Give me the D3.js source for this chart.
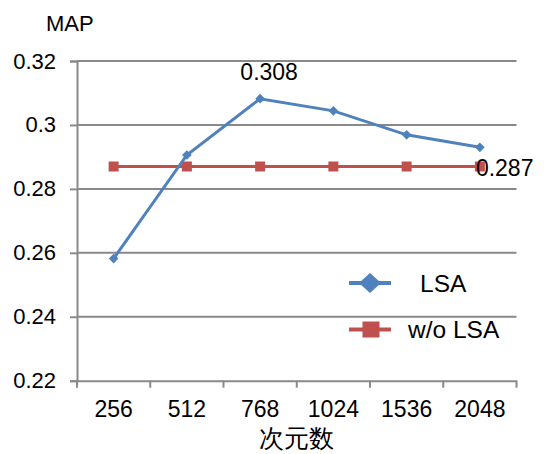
<!DOCTYPE html>
<html><head><meta charset="utf-8">
<script src="https://cdn.jsdelivr.net/npm/d3@7"></script>
<style>body{margin:0;background:#fff}text{font-family:"Liberation Sans",Arial,sans-serif;fill:#000}</style>
</head><body><svg id="c" width="546" height="454"></svg>
<script>
const categories = ["256","512","768","1024","1536","2048"];
const lsaValues = [0.2582, 0.2906, 0.3082, 0.3044, 0.2969, 0.293];
const woLsaValues = [0.287, 0.287, 0.287, 0.287, 0.287, 0.287];
const yTicks = [0.22, 0.24, 0.26, 0.28, 0.30, 0.32];
const yTickLabels = ["0.22","0.24","0.26","0.28","0.3","0.32"];
const seriesNames = ["LSA", "w/o LSA"];
const colors = ["#4F81BD", "#C0504D"];
const grey = "#898989";

const svg = d3.select("#c");
const L = 77, R = 516.5, T = 61, B = 380.7;
const x = d3.scaleBand().domain(categories).range([L, R]);
const y = d3.scaleLinear().domain([0.22, 0.32]).range([B, T]);
const cx = d => x(d) + x.bandwidth() / 2;
const FONT = "Liberation Sans, Arial, sans-serif";

// gridlines
svg.append("g").selectAll("line").data(yTicks.slice(1)).join("line")
  .attr("x1", L).attr("x2", R).attr("y1", d => y(d)).attr("y2", d => y(d))
  .attr("stroke", grey).attr("stroke-width", 2);

// y axis
const ya = svg.append("g").attr("transform", `translate(${L},0)`)
  .call(d3.axisLeft(y).tickValues(yTicks).tickFormat((d,i) => yTickLabels[i]).tickSize(7).tickPadding(14));
ya.select(".domain").attr("stroke", grey).attr("stroke-width", 2);
ya.selectAll(".tick line").attr("stroke", grey).attr("stroke-width", 2);
ya.selectAll("text").attr("font-size", 22).attr("font-family", FONT).attr("fill", "#000");

// x axis
const xa = svg.append("g").attr("transform", `translate(0,${B})`)
  .call(d3.axisBottom(x).tickSize(0).tickPadding(20));
xa.select(".domain").attr("stroke", grey).attr("stroke-width", 2);
xa.selectAll("text").attr("font-size", 23).attr("font-family", FONT).attr("fill", "#000");
// boundary tick marks
const bounds = categories.map(c => x(c)).concat([x(categories[categories.length-1]) + x.bandwidth()]);
svg.append("g").selectAll("line").data(bounds).join("line")
  .attr("x1", d => d).attr("x2", d => d).attr("y1", B).attr("y2", B + 7)
  .attr("stroke", grey).attr("stroke-width", 2);

// lines
const line = d3.line().x((d,i) => cx(categories[i])).y(d => y(d));
svg.append("path").datum(woLsaValues).attr("d", line).attr("fill", "none")
  .attr("stroke", colors[1]).attr("stroke-width", 3);
svg.append("g").selectAll("rect").data(woLsaValues).join("rect")
  .attr("x", (d,i) => cx(categories[i]) - 5).attr("y", d => y(d) - 5)
  .attr("width", 10).attr("height", 10).attr("fill", colors[1]);
svg.append("path").datum(lsaValues).attr("d", line).attr("fill", "none")
  .attr("stroke", colors[0]).attr("stroke-width", 3);
const diamond = d3.symbol().type(d3.symbolDiamond2).size(60);
svg.append("g").selectAll("path").data(lsaValues).join("path")
  .attr("d", diamond)
  .attr("transform", (d,i) => `translate(${cx(categories[i])},${y(d)})`)
  .attr("fill", colors[0]);

// data labels
svg.append("text").attr("x", cx("768") + 9).attr("y", 80)
  .attr("text-anchor", "middle").attr("font-size", 23).text("0.308");
svg.append("text").attr("x", cx("2048") - 4).attr("y", y(woLsaValues[5]) + 9)
  .attr("text-anchor", "start").attr("font-size", 23).text("0.287");

// axis titles
svg.append("text").attr("x", 46).attr("y", 31).attr("font-size", 22).text("MAP");
svg.append("text").attr("x", (L + R) / 2).attr("y", 447).attr("text-anchor", "middle")
  .attr("font-size", 25).attr("font-family", "Noto Sans CJK JP, sans-serif").text("次元数");

// legend
const leg = [{y: 283, tx: 420}, {y: 329.5, tx: 408}];
seriesNames.forEach((n, i) => {
  const g = svg.append("g");
  g.append("line").attr("x1", 349).attr("x2", 391).attr("y1", leg[i].y).attr("y2", leg[i].y)
    .attr("stroke", colors[i]).attr("stroke-width", 4);
  if (i === 0) {
    g.append("path").attr("d", "M0,-10L11,0L0,10L-11,0Z")
      .attr("transform", `translate(370,${leg[i].y})`).attr("fill", colors[0]);
  } else {
    g.append("rect").attr("x", 362.5).attr("y", leg[i].y - 8).attr("width", 17).attr("height", 16).attr("fill", colors[1]);
  }
  g.append("text").attr("x", leg[i].tx).attr("y", leg[i].y + 8.5).attr("font-size", 24.5).text(n);
});
</script></body></html>
